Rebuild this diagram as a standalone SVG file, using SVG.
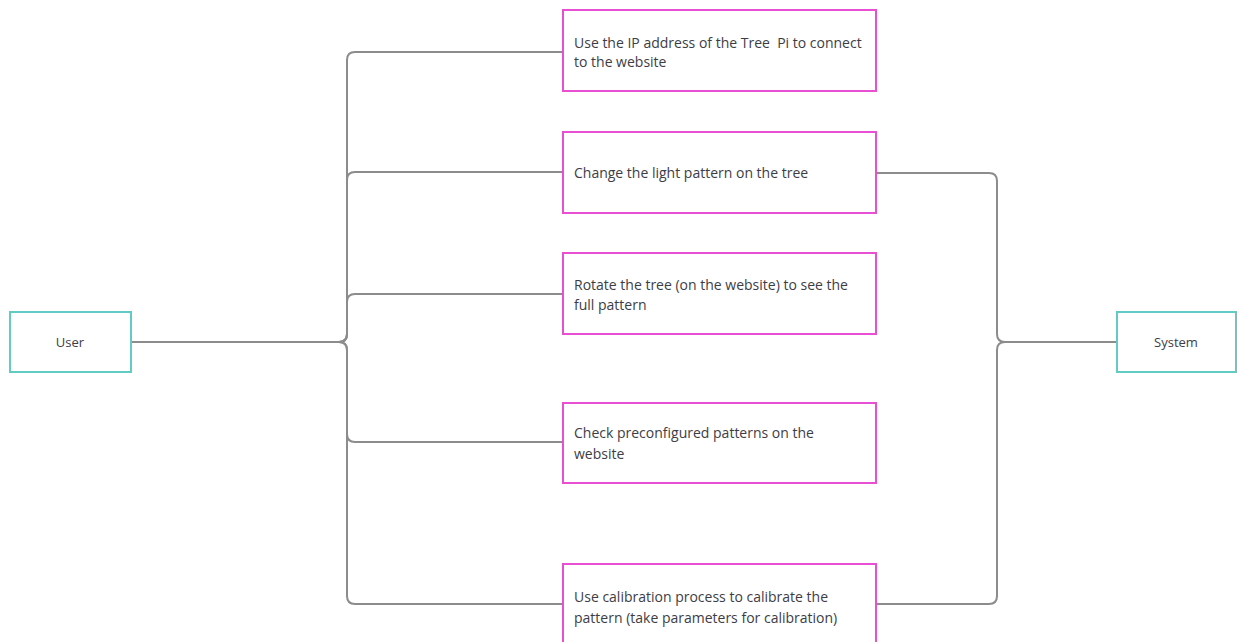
<svg xmlns="http://www.w3.org/2000/svg" width="1237" height="642" viewBox="0 0 1237 642">
<style>
.bg{fill:#ffffff}
.task{fill:#ffffff;stroke:#e94fd3;stroke-width:2}
.actor{fill:#ffffff;stroke:#62cbc3;stroke-width:2}
.conn path{fill:none;stroke:#8c8c8c;stroke-width:2}
text{font-family:"Open Sans",Lato,sans-serif;font-size:14px;fill:#3d3d45}
.c{text-anchor:middle;font-size:13px}
</style>
<rect class="bg" width="1237" height="642"/>
<g id="connectors" class="conn">
<path d="M131,342 H339 Q347,342 347,334 V60 Q347,52 355,52 H563"/>
<path d="M131,342 H339 Q347,342 347,334 V180 Q347,172 355,172 H563"/>
<path d="M131,342 H339 Q347,342 347,334 V302 Q347,294 355,294 H563"/>
<path d="M131,342 H339 Q347,342 347,350 V434 Q347,442 355,442 H563"/>
<path d="M131,342 H339 Q347,342 347,350 V596 Q347,604 355,604 H563"/>
<path d="M876,173 H989 Q997,173 997,181 V334 Q997,342 1005,342 H1117"/>
<path d="M876,604 H989 Q997,604 997,596 V350 Q997,342 1005,342 H1117"/>
</g>
<g id="user">
<rect class="actor" x="10" y="312" width="121" height="60"/>
<text class="c" x="70" y="347">User</text>
</g>
<g id="system">
<rect class="actor" x="1117" y="312" width="119" height="60"/>
<text class="c" x="1176" y="347">System</text>
</g>
<g id="task1">
<rect class="task" x="563" y="10" width="313" height="81"/>
<text x="574" y="48" xml:space="preserve">Use the IP address of the Tree  Pi to connect</text>
<text x="574" y="67">to the website</text>
</g>
<g id="task2">
<rect class="task" x="563" y="132" width="313" height="81"/>
<text x="574" y="178">Change the light pattern on the tree</text>
</g>
<g id="task3">
<rect class="task" x="563" y="253" width="313" height="81"/>
<text x="574" y="290">Rotate the tree (on the website) to see the</text>
<text x="574" y="310">full pattern</text>
</g>
<g id="task4">
<rect class="task" x="563" y="403" width="313" height="80"/>
<text x="574" y="438">Check preconfigured patterns on the</text>
<text x="574" y="459">website</text>
</g>
<g id="task5">
<rect class="task" x="563" y="564" width="313" height="90"/>
<text x="574" y="602">Use calibration process to calibrate the</text>
<text x="574" y="623">pattern (take parameters for calibration)</text>
</g>
</svg>
